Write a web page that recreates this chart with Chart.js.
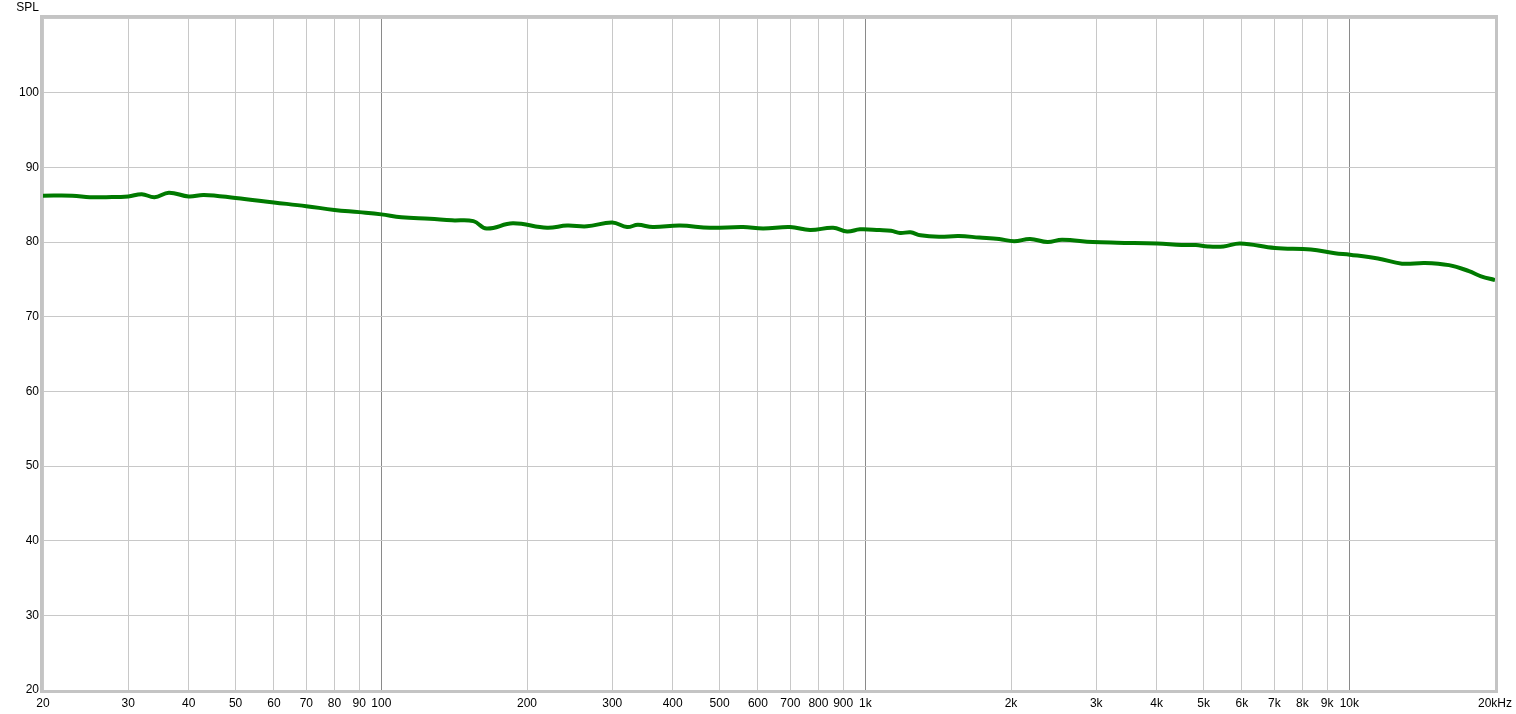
<!DOCTYPE html>
<html>
<head>
<meta charset="utf-8">
<script src="https://cdn.jsdelivr.net/npm/chart.js@4/dist/chart.umd.min.js"></script>
<style>
  html, body { margin: 0; padding: 0; background: #fff; }
  #wrap { width: 1516px; height: 714px; position: relative; }
</style>
</head>
<body>
<div id="wrap"><canvas id="c"></canvas></div>
<script>
// frequency response readings (Hz / dB SPL)
var freqHz = [20, 23, 25, 27, 30, 32, 34, 36.4, 40, 43, 50, 60, 70, 80, 90, 100, 110, 126, 140, 155,
    165, 187, 220, 242, 266, 300, 322, 339, 364, 414, 478, 559, 615, 699, 769, 858, 917, 975,
    1070, 1130, 1180, 1240, 1300, 1420, 1560, 1720, 1890, 2030, 2190, 2380, 2550, 2950, 3310, 4010, 4500, 4820,
    5100, 5500, 5950, 7020, 8330, 9340, 10030, 11460, 12850, 14330, 16070, 17670, 18720, 20000];
var splDb = [86.2, 86.2, 86.0, 86.0, 86.1, 86.4, 86.0, 86.6, 86.1, 86.3, 85.9, 85.3, 84.8, 84.3, 84.0, 83.7, 83.3, 83.1, 82.9, 82.8,
    81.8, 82.5, 81.9, 82.2, 82.1, 82.6, 82.0, 82.3, 82.0, 82.2, 81.9, 82.0, 81.8, 82.0, 81.6, 81.9, 81.4, 81.7,
    81.6, 81.5, 81.2, 81.3, 80.9, 80.7, 80.8, 80.6, 80.4, 80.1, 80.4, 80.0, 80.3, 80.0, 79.9, 79.8, 79.6, 79.6,
    79.4, 79.4, 79.8, 79.2, 79.0, 78.5, 78.3, 77.8, 77.1, 77.2, 76.9, 76.1, 75.4, 74.9];

var xTicks = [20, 30, 40, 50, 60, 70, 80, 90, 100, 200, 300, 400, 500, 600, 700, 800, 900,
    1000, 2000, 3000, 4000, 5000, 6000, 7000, 8000, 9000, 10000, 20000];
var xLabels = ['20', '30', '40', '50', '60', '70', '80', '90', '100', '200', '300', '400', '500', '600', '700', '800', '900',
    '1k', '2k', '3k', '4k', '5k', '6k', '7k', '8k', '9k', '10k', '20kHz'];
var decades = [100, 1000, 10000];
var yTicks = [20, 30, 40, 50, 60, 70, 80, 90, 100, 110];

var points = freqHz.map((f, i) => ({x: f, y: splDb[i]}));

var frame = {
    id: 'frame',
    afterDraw(chart) {
        var a = chart.chartArea, ctx = chart.ctx;
        ctx.save();
        ctx.strokeStyle = '#c4c4c4';
        ctx.lineWidth = 3;
        ctx.strokeRect(a.left - 1.5, a.top - 1.5, a.right - a.left + 3, a.bottom - a.top + 3);
        ctx.fillStyle = '#000';
        ctx.font = '12px "Liberation Sans", Arial, sans-serif';
        ctx.textAlign = 'right';
        ctx.textBaseline = 'middle';
        ctx.fillText('SPL', a.left - 4, 8);
        ctx.restore();
    }
};

new Chart(document.getElementById('c'), {
    type: 'line',
    data: {
        datasets: [{
            data: points,
            borderColor: '#007a00',
            borderWidth: 4,
            pointRadius: 0,
            tension: 0.4,
            fill: false
        }]
    },
    options: {
        responsive: true,
        maintainAspectRatio: false,
        animation: false,
        layout: { padding: { top: 18, right: 21, left: 0, bottom: 0 } },
        plugins: { legend: { display: false }, tooltip: { enabled: false } },
        scales: {
            x: {
                type: 'logarithmic',
                min: 20, max: 20000,
                afterBuildTicks: (s) => { s.ticks = xTicks.map(v => ({value: v})); },
                afterFit: (s) => { s.height = 24; s.paddingLeft = 0; s.paddingRight = 0; },
                border: { display: false },
                grid: {
                    drawTicks: false,
                    lineWidth: 1,
                    color: (c) => decades.includes(c.tick && c.tick.value) ? '#8a8a8a' : '#c8c8c8'
                },
                ticks: {
                    autoSkip: false,
                    maxRotation: 0,
                    padding: 6,
                    color: '#000',
                    font: { family: '"Liberation Sans", Arial, sans-serif', size: 12 },
                    callback: function (v, i) { return xLabels[i]; }
                }
            },
            y: {
                min: 20, max: 110,
                afterBuildTicks: (s) => { s.ticks = yTicks.map(v => ({value: v})); },
                afterFit: (s) => { s.width = 43; },
                border: { display: false },
                grid: { drawTicks: false, color: '#c8c8c8', lineWidth: 1 },
                ticks: {
                    padding: 4,
                    color: '#000',
                    font: { family: '"Liberation Sans", Arial, sans-serif', size: 12 },
                    callback: (v) => v === 110 ? '' : String(v)
                }
            }
        }
    },
    plugins: [frame]
});
</script>
</body>
</html>
